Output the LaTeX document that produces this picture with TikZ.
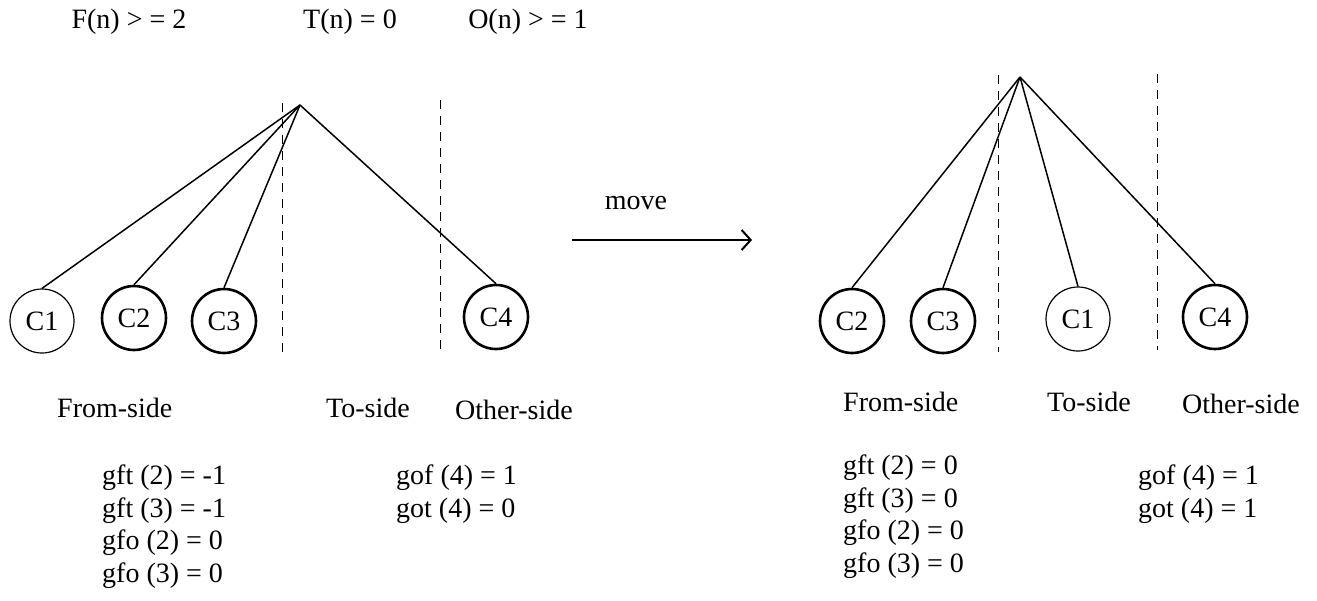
\documentclass[tikz,border=0pt]{standalone}
\usepackage{fontspec}
\setmainfont{Liberation Serif}
\usetikzlibrary{arrows.meta}
\newcommand{\lblfont}{\fontsize{28}{32.5}\selectfont}
\begin{document}
\begin{tikzpicture}[x=1pt,y=-1pt,
  txt/.style={inner sep=0pt,font=\lblfont},
  block/.style={inner sep=0pt,font=\lblfont,align=left,anchor=north west},
  cnode/.style={circle,draw,minimum size=64pt,inner sep=0pt,font=\lblfont},
  thickc/.style={cnode,line width=2.6pt},
  thinc/.style={cnode,line width=1.2pt},
  edge/.style={line width=1.5pt},
  divider/.style={line width=1pt,dash pattern=on 9pt off 7pt},
  movearrow/.style={line width=2pt,-{Straight Barb[length=9pt,width=20pt,line width=2pt]}}
]
\useasboundingbox (0,0) rectangle (1317,600);

% header
\node[txt] (hF) at (129,22) {F(n) > = 2};
\node[txt] (hT) at (350,22) {T(n) = 0};
\node[txt] (hO) at (528,22) {O(n) > = 1};

% left tree
\coordinate (LA) at (300,105);
\node[thinc]  (L1) at (42,321) {C1};
\node[thickc] (L2) at (134,318) {C2};
\node[thickc] (L3) at (224,321) {C3};
\node[thickc] (L4) at (496,317) {C4};
\draw[edge] (LA) -- (L1.north);
\draw[edge] (LA) -- (L2.north);
\draw[edge] (LA) -- (L3.north);
\draw[edge] (LA) -- (L4.north);
\coordinate (LD1a) at (282,103); \coordinate (LD1b) at (282,355);
\coordinate (LD2a) at (440,100); \coordinate (LD2b) at (440,355);
\draw[divider] (LD1a) -- (LD1b);
\draw[divider] (LD2a) -- (LD2b);

\node[txt,anchor=west] (Lfrom) at (57,408) {From-side};
\node[txt,anchor=west] (Lto) at (326,408) {To-side};
\node[txt,anchor=west] (Lother) at (455,410) {Other-side};
\node[block] (Lvals) at (102,465) {gft (2) = -1\\gft (3) = -1\\gfo (2) = 0\\gfo (3) = 0};
\node[block] (Lvals2) at (396,465) {gof (4) = 1\\got (4) = 0};

% move arrow
\node[txt] (mv) at (636,203) {move};
\coordinate (MS) at (572,240);
\coordinate (ME) at (752,240);
\draw[movearrow] (MS) -- (ME);

% right tree
\coordinate (RA) at (1020,77);
\node[thickc] (R2) at (852,321) {C2};
\node[thickc] (R3) at (943,321) {C3};
\node[thinc]  (R1) at (1078,319) {C1};
\node[thickc] (R4) at (1215,317) {C4};
\draw[edge] (RA) -- (R2.north);
\draw[edge] (RA) -- (R3.north);
\draw[edge] (RA) -- (R1.north);
\draw[edge] (RA) -- (R4.north);
\coordinate (RD1a) at (998,75); \coordinate (RD1b) at (998,352);
\coordinate (RD2a) at (1157,74); \coordinate (RD2b) at (1157,350);
\draw[divider] (RD1a) -- (RD1b);
\draw[divider] (RD2a) -- (RD2b);

\node[txt,anchor=west] (Rfrom) at (843,402) {From-side};
\node[txt,anchor=west] (Rto) at (1047,402) {To-side};
\node[txt,anchor=west] (Rother) at (1182,404) {Other-side};
\node[block] (Rvals) at (843,455) {gft (2) = 0\\gft (3) = 0\\gfo (2) = 0\\gfo (3) = 0};
\node[block] (Rvals2) at (1138,465) {gof (4) = 1\\got (4) = 1};
\end{tikzpicture}
\end{document}
